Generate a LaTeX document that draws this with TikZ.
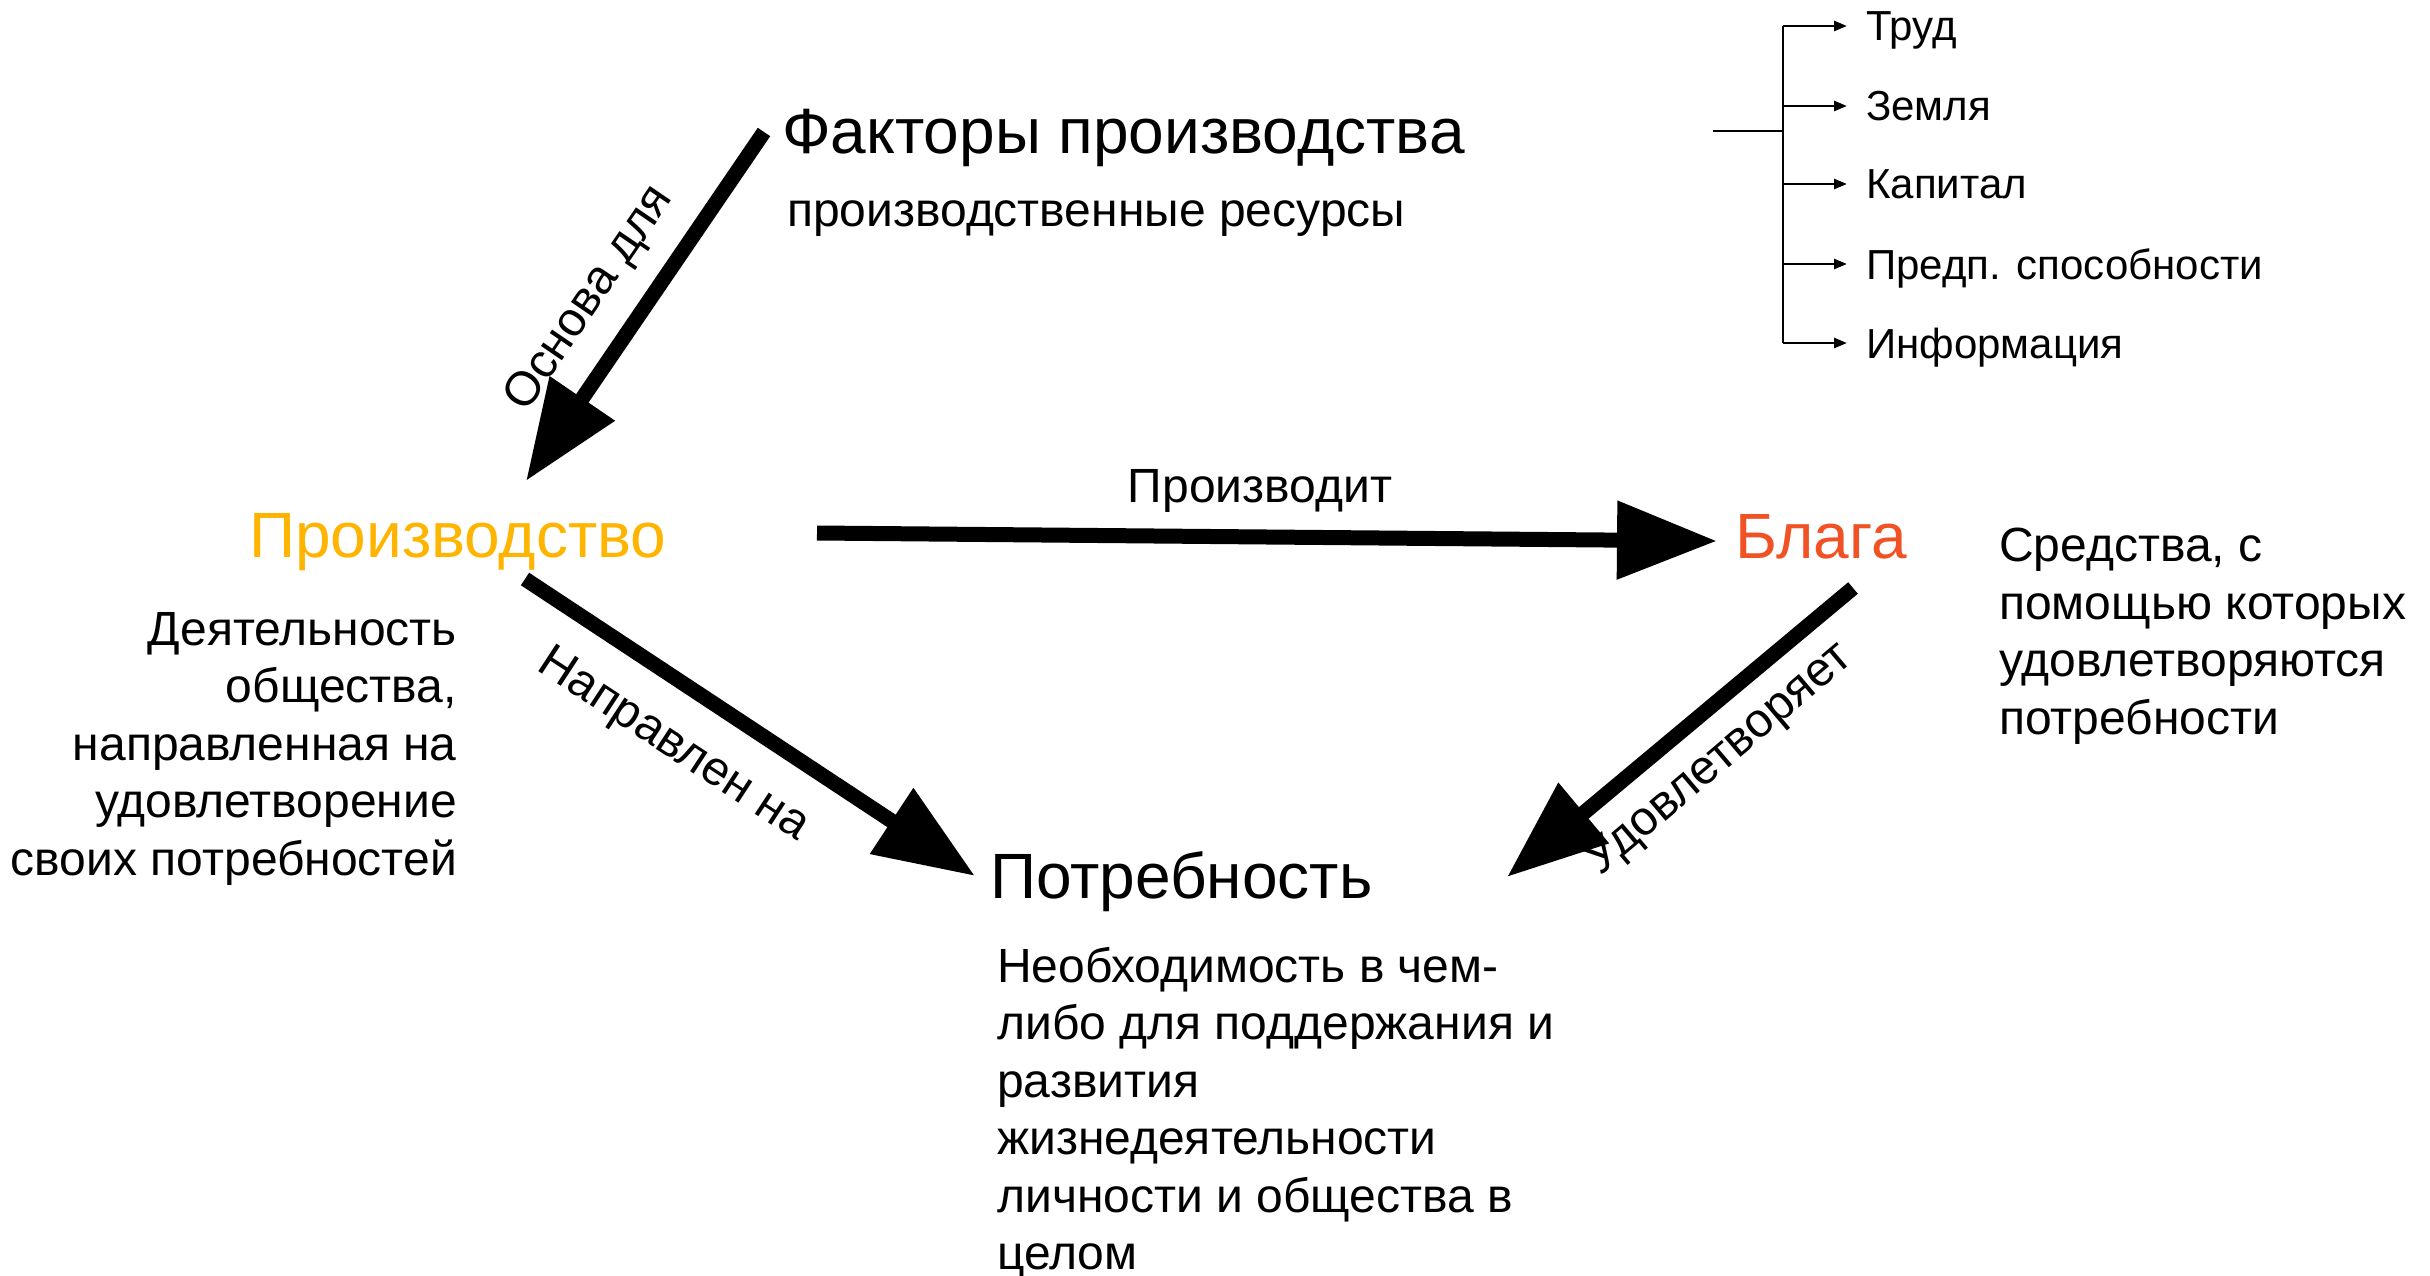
\documentclass[tikz,border=0pt]{standalone}
\usepackage{fontspec}
\setmainfont{Liberation Sans}
\usetikzlibrary{arrows.meta}
\definecolor{prodcol}{RGB}{255,180,0}
\definecolor{blagacol}{RGB}{240,82,38}
\begin{document}
\begin{tikzpicture}[x=1pt,y=-1pt,
  title/.style={font=\fontsize{64}{77}\selectfont, inner sep=0pt, anchor=base west},
  body/.style={font=\fontsize{48}{57.5}\selectfont, inner sep=0pt},
  small/.style={font=\fontsize{42}{50}\selectfont, inner sep=0pt, anchor=base west},
  lbl/.style={font=\fontsize{48}{57.5}\selectfont, inner sep=0pt},
  big arrow/.style={line width=15pt, -{Triangle[length=100pt,width=75pt]}},
  thin line/.style={line width=2.5pt},
  thin arrow/.style={line width=2.5pt, -{Triangle[length=13pt,width=10pt]}, shorten >=19pt}]
\useasboundingbox (0,0) rectangle (2430,1276);

% main nodes
\node[title] (fact) at (782,154) {Факторы производства};
\node[body, anchor=base west] (res) at (787,226) {производственные ресурсы};
\node[title, text=prodcol] (prod) at (249,557) {Производство};
\node[title, text=blagacol] (blaga) at (1735,558) {Блага};
\node[title] (need) at (990,898) {Потребность};

\node[body, align=right, anchor=north east] (proddesc) at (457,612)
  {Деятельность\\общества,\\направленная на\\удовлетворение\\своих потребностей};
\node[body, align=left, anchor=north west] (blagadesc) at (1999,528)
  {Средства, с\\помощью которых\\удовлетворяются\\потребности};
\node[body, align=left, anchor=north west] (needdesc) at (997,947)
  {Необходимость в чем-\\либо для поддержания и\\развития\\жизнедеятельности\\личности и общества в\\целом};

% factor list
\node[small] (f1) at (1866,41) {Труд};
\node[small] (f2) at (1866,121) {Земля};
\node[small] (f3) at (1866,199) {Капитал};
\node[small] (f4) at (1866,279) {Предп. способности};
\node[small] (f5) at (1866,358) {Информация};

\coordinate (b0) at (1713,131);
\coordinate (t1) at (1783,26);
\coordinate (t2) at (1783,106);
\coordinate (t3) at (1783,184);
\coordinate (t4) at (1783,264);
\coordinate (t5) at (1783,343);
\draw[thin line] (b0) -- (b0 -| t1);
\draw[thin line] (t1) -- (t5);
\draw[thin arrow] (t1) -- (t1 -| f1.west);
\draw[thin arrow] (t2) -- (t2 -| f2.west);
\draw[thin arrow] (t3) -- (t3 -| f3.west);
\draw[thin arrow] (t4) -- (t4 -| f4.west);
\draw[thin arrow] (t5) -- (t5 -| f5.west);

% big arrows
\coordinate (a1s) at (764,132);
\coordinate (a1e) at (526,481);
\coordinate (a2s) at (817,533);
\coordinate (a2e) at (1717,541);
\coordinate (a3s) at (1853,588);
\coordinate (a3e) at (1507,877);
\coordinate (a4s) at (525,579);
\coordinate (a4e) at (975,876);
\draw[big arrow] (a1s) -- (a1e);
\draw[big arrow] (a2s) -- (a2e);
\draw[big arrow] (a3s) -- (a3e);
\draw[big arrow] (a4s) -- (a4e);

% arrow labels
\node[lbl, rotate=55.7] (losn) at (590,299) {Основа для};
\node[lbl] (lpro) at (1260,491) {Производит};
\node[lbl, rotate=40.3] (ludo) at (1720,760) {Удовлетворяет};
\node[lbl, rotate=-33.2] (lnap) at (673,746) {Направлен на};
\end{tikzpicture}
\end{document}
